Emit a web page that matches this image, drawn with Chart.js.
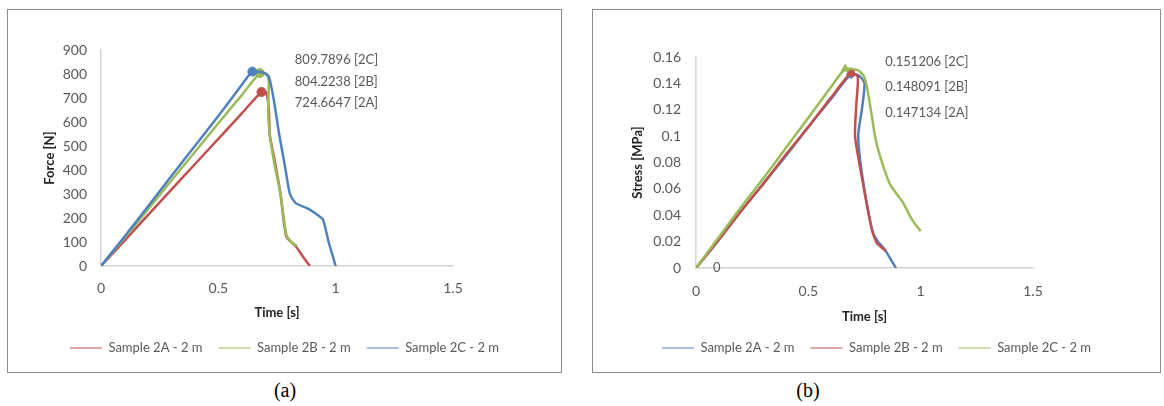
<!DOCTYPE html>
<html>
<head>
<meta charset="utf-8">
<script src="https://cdn.jsdelivr.net/npm/chart.js@4.4.0/dist/chart.umd.min.js"></script>
<style>
  body { margin: 0; background: #fff; width: 1164px; height: 406px; position: relative; overflow: hidden; }
  .panel { position: absolute; top: 9px; height: 362px; border: 1px solid #8a8a8a; background: #fff; }
  #pa { left: 7px; width: 553px; }
  #pb { left: 592px; width: 567px; }
  .cap { position: absolute; top: 379px; font: 20px "Liberation Serif", serif; color: #000; transform: translateX(-50%); }
</style>
</head>
<body>
<div class="panel" id="pa"><canvas id="chartA" width="553" height="362"></canvas></div>
<div class="panel" id="pb"><canvas id="chartB" width="567" height="362"></canvas></div>
<div class="cap" style="left:285px">(a)</div>
<div class="cap" style="left:808px">(b)</div>
<script>
// axis ticks
const timeTicks = [0, 0.5, 1, 1.5];
const forceTicks = [0, 100, 200, 300, 400, 500, 600, 700, 800, 900];
const stressTicks = [0, 0.02, 0.04, 0.06, 0.08, 0.1, 0.12, 0.14, 0.16];
const sampleNames = ["Sample 2A - 2 m", "Sample 2B - 2 m", "Sample 2C - 2 m"];

// (a) force vs time
const timeF2A = [0, 0.1, 0.2, 0.3, 0.4, 0.5, 0.6, 0.684, 0.705, 0.715, 0.72, 0.74, 0.765, 0.79, 0.83, 0.86, 0.89];
const force2A = [0, 105, 212, 318, 424, 530, 636, 725, 722, 650, 540, 440, 300, 122, 82, 40, 0];
const timeF2B = [0, 0.1, 0.2, 0.3, 0.4, 0.5, 0.6, 0.677, 0.705, 0.715, 0.712, 0.72, 0.74, 0.765, 0.79, 0.815, 0.835];
const force2B = [0, 117, 236, 356, 475, 595, 712, 804, 800, 770, 650, 540, 420, 300, 130, 95, 85];
const timeF2C = [0, 0.1, 0.2, 0.3, 0.4, 0.5, 0.6, 0.645, 0.69, 0.715, 0.735, 0.76, 0.785, 0.805, 0.83, 0.88, 0.92, 0.945, 0.958, 0.97, 0.985, 1.0];
const force2C = [0, 122, 248, 375, 500, 625, 755, 810, 806, 790, 700, 545, 410, 300, 262, 240, 215, 195, 150, 100, 50, 0];
const peakForceText = ["809.7896 [2C]", "804.2238 [2B]", "724.6647 [2A]"];

// (b) stress vs time
const timeS2A = [0, 0.1, 0.2, 0.3, 0.4, 0.5, 0.6, 0.69, 0.725, 0.75, 0.738, 0.722, 0.74, 0.785, 0.81, 0.84, 0.865, 0.89];
const stress2A = [0, 0.021, 0.043, 0.064, 0.085, 0.107, 0.128, 0.147, 0.146, 0.14, 0.12, 0.1, 0.07, 0.028, 0.02, 0.014, 0.007, 0];
const timeS2B = [0, 0.1, 0.2, 0.3, 0.4, 0.5, 0.6, 0.69, 0.72, 0.714, 0.708, 0.738, 0.783, 0.805, 0.845];
const stress2B = [0, 0.021, 0.043, 0.064, 0.086, 0.107, 0.129, 0.148, 0.145, 0.125, 0.1, 0.069, 0.029, 0.019, 0.013];
const timeS2C = [0, 0.1, 0.2, 0.3, 0.4, 0.5, 0.6, 0.664, 0.72, 0.745, 0.76, 0.78, 0.8, 0.83, 0.865, 0.92, 0.96, 0.985, 1.0];
const stress2C = [0, 0.023, 0.046, 0.068, 0.091, 0.114, 0.137, 0.151, 0.15, 0.146, 0.138, 0.118, 0.097, 0.079, 0.063, 0.05, 0.037, 0.031, 0.028];
const peakStressText = ["0.151206 [2C]", "0.148091 [2B]", "0.147134 [2A]"];

const RED = "#C0504D", GREEN = "#9BBB59", BLUE = "#4F81BD";
const tickColor = "#595959";
const fmt = v => String(+Number(v).toFixed(2));

function series(label, xs, ys, color, marker, order) {
  const peak = ys.indexOf(Math.max(...ys));
  return {
    label: label,
    data: xs.map((x, i) => ({ x: x, y: ys[i] })),
    borderColor: color,
    backgroundColor: color,
    borderWidth: 2.5,
    tension: 0.2,
    pointStyle: marker,
    pointRadius: ctx => ctx.dataIndex === peak ? 4.5 : 0,
    pointBorderWidth: 1,
    order: order
  };
}

// text notes drawn at value positions
const notes = {
  id: "notes",
  afterDraw(chart, args, opts) {
    const { ctx, scales } = chart;
    ctx.save();
    ctx.font = opts.font;
    ctx.fillStyle = opts.color;
    ctx.textBaseline = "middle";
    ctx.textAlign = opts.align || "left";
    opts.items.forEach(it => {
      ctx.fillText(it.text, scales.x.getPixelForValue(it.x), scales.y.getPixelForValue(it.y));
    });
    ctx.restore();
  }
};

function makeChart(id, datasets, yTicks, yTitle, lay, noteItems) {
  return new Chart(document.getElementById(id), {
    type: "line",
    data: { datasets: datasets },
    plugins: [notes],
    options: {
      responsive: false,
      animation: false,
      layout: { padding: { left: 0, right: 0, top: lay.top, bottom: lay.bottom } },
      plugins: {
        tooltip: { enabled: false },
        legend: {
          position: "bottom",
          labels: {
            usePointStyle: true,
            pointStyle: "line",
            pointStyleWidth: 32,
            padding: 16,
            color: tickColor,
            font: { family: "Lato", size: 13 },
            sort: (a, b) => a.datasetIndex - b.datasetIndex
          }
        },
        notes: { font: "13px Lato", color: tickColor, items: noteItems }
      },
      scales: {
        x: {
          type: "linear",
          min: 0, max: 1.5,
          afterBuildTicks: s => { s.ticks = timeTicks.map(v => ({ value: v })); },
          afterFit: s => { s.height = lay.xH; },
          grid: { display: false, drawTicks: false },
          border: { display: true, color: "#d4d4d4", width: 1.5 },
          ticks: { padding: lay.xPad, color: tickColor, font: { family: "Lato", size: 14 }, callback: fmt },
          title: { display: true, text: "Time [s]", color: "#222", font: { family: "Lato", size: 13, weight: "bold" }, padding: { top: 0, bottom: lay.xTitlePad } }
        },
        y: {
          min: 0, max: yTicks[yTicks.length - 1],
          afterBuildTicks: s => { s.ticks = yTicks.map(v => ({ value: v })); },
          afterFit: s => { s.width = lay.yW; },
          grid: { display: false, drawTicks: false },
          border: { display: true, color: "#d4d4d4", width: 1.5 },
          ticks: { padding: lay.yPad, color: tickColor, font: { family: "Lato", size: 14 }, callback: fmt },
          title: { display: true, text: yTitle, color: "#222", font: { family: "Lato", size: 13, weight: "bold" }, padding: { top: lay.yTitlePad, bottom: 0 } }
        },
        right: {
          position: "right",
          afterFit: s => { s.width = lay.rW; },
          grid: { display: false, drawTicks: false },
          border: { display: false },
          ticks: { display: false }
        }
      }
    }
  });
}

makeChart("chartA", [
  series(sampleNames[0], timeF2A, force2A, RED, "circle", 3),
  series(sampleNames[1], timeF2B, force2B, GREEN, "circle", 2),
  series(sampleNames[2], timeF2C, force2C, BLUE, "circle", 1)
], forceTicks, "Force [N]",
  { top: 40, bottom: 7.5, xH: 59.5, xPad: 14, xTitlePad: 5, yW: 93, yPad: 14, yTitlePad: 34, rW: 108 },
  peakForceText.map((t, i) => ({ text: t, x: 0.826, y: [858, 767, 679][i] })));

makeChart("chartB", [
  series(sampleNames[0], timeS2A, stress2A, BLUE, "rectRot", 3),
  series(sampleNames[1], timeS2B, stress2B, RED, "rect", 2),
  series(sampleNames[2], timeS2C, stress2C, GREEN, "triangle", 1)
], stressTicks, "Stress [MPa]",
  { top: 47, bottom: 7.5, xH: 57.5, xPad: 15.5, xTitlePad: 1, yW: 103, yPad: 15, yTitlePad: 37, rW: 127 },
  peakStressText.map((t, i) => ({ text: t, x: 0.842, y: [0.1562, 0.1372, 0.1175][i] }))
    .concat([{ text: "0", x: 0.076, y: 0 }]));
</script>
</body>
</html>
